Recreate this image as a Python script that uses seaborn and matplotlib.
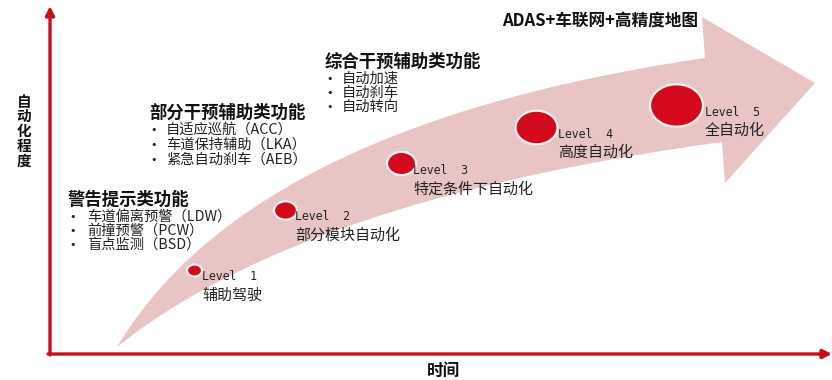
import numpy as np
import pandas as pd
import matplotlib
matplotlib.use("Agg")
import matplotlib.pyplot as plt
from matplotlib.path import Path
import seaborn as sns

# ---------------- data ----------------
levels = ["Level 1", "Level 2", "Level 3", "Level 4", "Level 5"]
level_names = ["辅助驾驶", "部分模块自动化", "特定条件下自动化", "高度自动化", "全自动化"]
time_pos = [194, 285, 401, 536, 676]          # position along the time axis
automation = [110, 170, 217, 253, 275]        # degree of automation (up)

stage1_title = "警告提示类功能"
stage1_items = ["车道偏离预警（LDW）", "前撞预警（PCW）", "盲点监测（BSD）"]
stage2_title = "部分干预辅助类功能"
stage2_items = ["自适应巡航（ACC）", "车道保持辅助（LKA）", "紧急自动刹车（AEB）"]
stage3_title = "综合干预辅助类功能"
stage3_items = ["自动加速", "自动刹车", "自动转向"]
top_title = "ADAS+车联网+高精度地图"
y_label = "自动化程度"
x_label = "时间"

# ---------------- style ----------------
circle_w = [15, 23, 29, 42, 53]   # marker widths in px
W, H = 832, 380
RED_AXIS = "#c4101c"
RED_DOT = "#d20a1c"
PINK = "#e8c4c5"

sns.set_theme(style="white")
plt.rcParams["font.family"] = ["Noto Sans CJK SC", "DejaVu Sans"]

fig = plt.figure(figsize=(W / 100, H / 100), dpi=100)
ax = fig.add_axes([0, 0, 1, 1])


def Y(py):
    return H - py


# ---- curved arrow band ----
def qbez(p0, p1, p2, n=80):
    t = np.linspace(0, 1, n)[:, None]
    p0, p1, p2 = map(np.asarray, (p0, p1, p2))
    return (1 - t) ** 2 * p0 + 2 * (1 - t) * t * p1 + t ** 2 * p2

upper = qbez((117, 347), (250, 125), (705, 58))
lower = qbez((117, 347), (300, 200), (722, 142))[::-1]
head = np.array([(702, 17), (815, 83), (725, 183)])
poly = np.vstack([upper, head, lower])
ax.fill(poly[:, 0], H - poly[:, 1], color=PINK, lw=0, zorder=1)

# ---- axes arrows ----
ax.annotate("", xy=(50, Y(6)), xytext=(50, Y(355)),
            arrowprops=dict(arrowstyle="-|>", color=RED_AXIS, lw=2.4,
                            mutation_scale=13, shrinkA=0, shrinkB=0), zorder=3)
ax.annotate("", xy=(832, Y(354)), xytext=(48, Y(354)),
            arrowprops=dict(arrowstyle="-|>", color=RED_AXIS, lw=2.4,
                            mutation_scale=13, shrinkA=0, shrinkB=0), zorder=3)

# ---- level circles ----
th = np.linspace(0, 2 * np.pi, 64)
ell = Path(np.column_stack([1.25 * np.cos(th), np.sin(th)]), closed=True)
df = pd.DataFrame({"time": time_pos, "auto": automation, "level": levels})
sizes = [(w * 0.72) ** 2 for w in circle_w]
for i in range(len(levels)):
    sns.scatterplot(data=df.iloc[[i]], x="time", y="auto", ax=ax,
                    marker=ell, s=sizes[i], color=RED_DOT,
                    edgecolor="#fbf3f3", linewidth=1.6, zorder=4, legend=False)
ax.set_xlim(0, W)
ax.set_ylim(0, H)
ax.axis("off")

# ---- level labels ----
lab_dx = [8, 10, 12, 22, 29]
for i in range(len(levels)):
    x0 = time_pos[i] + lab_dx[i]
    ax.text(x0, automation[i] - 7, levels[i].replace(" ", "  "),
            family=["DejaVu Sans Mono"], fontsize=8.3, color="#222",
            ha="left", va="center", zorder=5)
    ax.text(x0, automation[i] - 26, level_names[i], fontsize=10.8,
            color="#222", ha="left", va="center", zorder=5)

# ---- function groups ----
def group(x, y, title, items, step=14.5, dx=17):
    ax.text(x, Y(y), title, fontsize=12.5, fontweight="bold", color="#111",
            ha="left", va="center", zorder=5)
    for k, it in enumerate(items):
        yy = Y(y + 17 + k * step)
        ax.text(x + 1, yy, "•", family=["DejaVu Sans"], fontsize=8,
                color="#222", ha="left", va="center")
        ax.text(x + dx, yy, it, fontsize=10.3, color="#222",
                ha="left", va="center")

group(68, 200, stage1_title, stage1_items, step=14, dx=19)
group(149, 113, stage2_title, stage2_items, step=15, dx=17)
group(325, 62, stage3_title, stage3_items, step=14, dx=17)

ax.text(502, Y(21), top_title, fontsize=12, fontweight="bold", color="#111",
        ha="left", va="center", zorder=5)

# ---- axis titles ----
ax.text(24, Y(131), "\n".join(y_label), fontsize=10.5, fontweight="bold",
        color="#111", ha="center", va="center", linespacing=0.9)
ax.text(443, Y(371), x_label, fontsize=12, fontweight="bold", color="#111",
        ha="center", va="center")

fig.savefig("out.png", dpi=100)
